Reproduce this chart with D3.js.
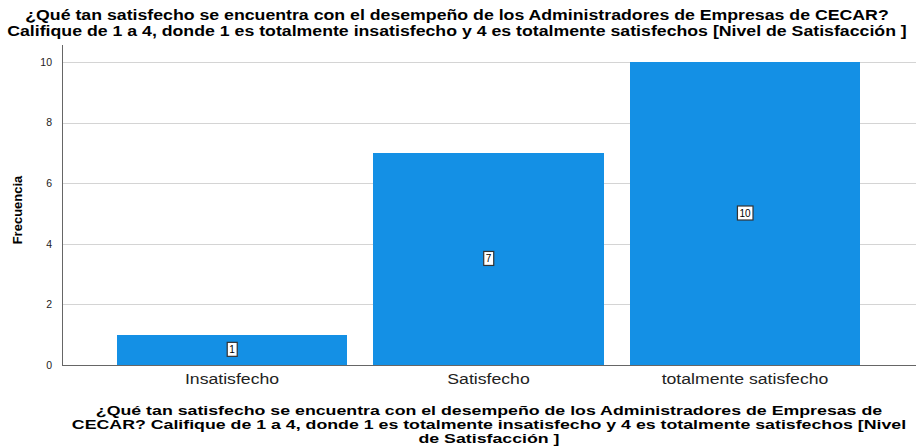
<!DOCTYPE html>
<html><head><meta charset="utf-8">
<script src="https://cdn.jsdelivr.net/npm/d3@7"></script>
<style>
body{margin:0;background:#fff;}
svg{display:block;font-family:"Liberation Sans",Arial,sans-serif;}
</style></head><body>
<svg id="c" width="916" height="447"></svg>
<script>
const categories = ["Insatisfecho", "Satisfecho", "totalmente satisfecho"];
const frequencies = [1, 7, 10];
const yTicks = [0, 2, 4, 6, 8, 10];
const titleLines = [
  "¿Qué tan satisfecho se encuentra con el desempeño de los Administradores de Empresas de CECAR?",
  "Califique de 1 a 4, donde 1 es totalmente insatisfecho y 4 es totalmente satisfechos [Nivel de Satisfacción ]"
];
const xTitleLines = [
  "¿Qué tan satisfecho se encuentra con el desempeño de los Administradores de Empresas de",
  "CECAR? Califique de 1 a 4, donde 1 es totalmente insatisfecho y 4 es totalmente satisfechos [Nivel",
  "de Satisfacción ]"
];
const yTitle = "Frecuencia";

(function () {
const svg = d3.select("#c");
const pLeft = 62, pRight = 916, pTop = 45, pBottom = 365;

// widen text to mimic the reference renderer
function stretch(sel, k) {
  sel.each(function () {
    const w = this.getComputedTextLength();
    d3.select(this).attr("textLength", w * k).attr("lengthAdjust", "spacingAndGlyphs");
  });
}

const y = d3.scaleLinear().domain([0, 10]).range([pBottom, 62]);
const x = d3.scaleBand().domain(categories).range([103.75, 873.25]).paddingInner(0.103).paddingOuter(0.0515);

// grid
svg.append("g").selectAll("line").data(yTicks.filter(d => d > 0)).join("line")
  .attr("x1", pLeft).attr("x2", pRight).attr("y1", d => Math.round(y(d)) + 0.5).attr("y2", d => Math.round(y(d)) + 0.5)
  .attr("stroke", "#d4d4d4").attr("stroke-width", 1);

// bars
svg.append("g").selectAll("rect").data(frequencies).join("rect")
  .attr("x", (d, i) => x(categories[i])).attr("width", x.bandwidth())
  .attr("y", d => y(d)).attr("height", d => pBottom - y(d))
  .attr("fill", "#1490e5").attr("shape-rendering", "crispEdges");

// y axis
const yAxis = d3.axisLeft(y).tickValues(yTicks).tickSize(0).tickPadding(10).tickFormat(d3.format("d"));
const gy = svg.append("g").attr("transform", `translate(${pLeft},0)`).call(yAxis);
gy.select(".domain").remove();
gy.selectAll("text").attr("font-size", 10.5).attr("fill", "#222").attr("font-family", "Liberation Sans, Arial, sans-serif");
svg.append("line").attr("x1", pLeft + 0.5).attr("x2", pLeft + 0.5).attr("y1", pTop).attr("y2", pBottom)
  .attr("stroke", "#666");

// x axis
const xAxis = d3.axisBottom(x).tickSize(0).tickPadding(9);
const gx = svg.append("g").attr("transform", `translate(0,${pBottom})`).call(xAxis);
gx.select(".domain").remove();
gx.selectAll("text").attr("font-size", 14).attr("fill", "#222").attr("font-family", "Liberation Sans, Arial, sans-serif")
  .call(stretch, 1.26);
svg.append("line").attr("x1", pLeft).attr("x2", pRight).attr("y1", pBottom + 0.5).attr("y2", pBottom + 0.5)
  .attr("stroke", "#666");

// data labels
const lab = svg.append("g").selectAll("g").data(frequencies).join("g")
  .attr("transform", (d, i) => `translate(${x(categories[i]) + x.bandwidth() / 2},${y(d / 2)})`);
lab.append("text").text(d => d).attr("text-anchor", "middle").attr("dy", "0.35em")
  .attr("font-size", 10).attr("fill", "#000");
lab.each(function () {
  const g = d3.select(this);
  const bb = g.select("text").node().getBBox();
  g.insert("rect", "text").attr("x", bb.x - 2).attr("y", bb.y - 2)
    .attr("width", bb.width + 4).attr("height", bb.height + 3)
    .attr("fill", "#fff").attr("stroke", "#333").attr("stroke-width", 1.2);
});

// titles
svg.append("g").selectAll("text").data(titleLines).join("text")
  .attr("x", 457).attr("y", (d, i) => 20 + i * 16).attr("text-anchor", "middle")
  .attr("font-size", 14).attr("font-weight", "bold").attr("fill", "#000").text(d => d)
  .call(stretch, 1.265);

svg.append("g").selectAll("text").data(xTitleLines).join("text")
  .attr("x", 489).attr("y", (d, i) => 415 + i * 14).attr("text-anchor", "middle")
  .attr("font-size", 13).attr("font-weight", "bold").attr("fill", "#000").text(d => d)
  .call(stretch, 1.365);

svg.append("text").attr("transform", "translate(22,210) rotate(-90)").attr("text-anchor", "middle")
  .attr("font-size", 13).attr("font-weight", "bold").attr("fill", "#000").text(yTitle);
})();
</script></body></html>
